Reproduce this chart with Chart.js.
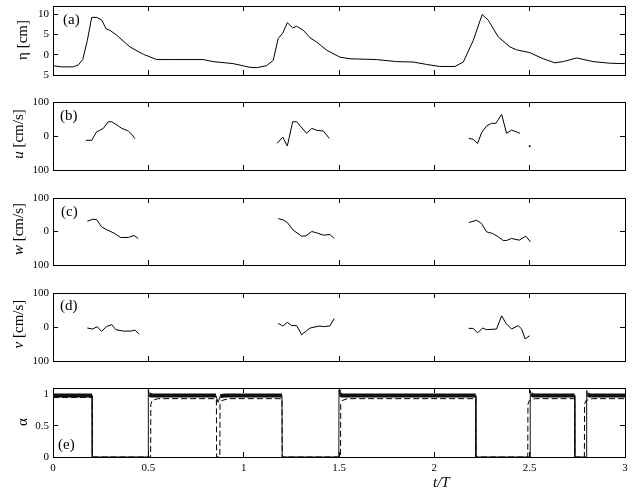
<!DOCTYPE html>
<html><head><meta charset="utf-8">
<script src="https://cdn.jsdelivr.net/npm/chart.js@4"></script>
<style>
body{margin:0;background:#fff;width:634px;height:494px;position:relative;overflow:hidden;font-family:'Liberation Serif',serif;color:#000}
.panel{position:absolute;left:0;width:634px}
.lbl{position:absolute;font-size:15px;line-height:1;white-space:nowrap;transform:translateY(-50%)}
.ytl{position:absolute;font-size:15px;line-height:1;white-space:nowrap;transform:translate(-50%,-50%) rotate(-90deg)}
</style></head><body>
<div class="panel" id="pa"><canvas id="ca"></canvas></div>
<div class="panel" id="pb"><canvas id="cb"></canvas></div>
<div class="panel" id="pc"><canvas id="cc"></canvas></div>
<div class="panel" id="pd"><canvas id="cd"></canvas></div>
<div class="panel" id="pe"><canvas id="ce"></canvas></div>

<div class="ytl" style="left:22px;top:40px">η [cm]</div>
<div class="ytl" style="left:18px;top:134px"><i>u</i> [cm/s]</div>
<div class="ytl" style="left:18px;top:229px"><i>w</i> [cm/s]</div>
<div class="ytl" style="left:18px;top:324px"><i>v</i> [cm/s]</div>
<div class="ytl" style="left:22px;top:422px">α</div>

<div class="lbl" style="left:63px;top:19px">(a)</div>
<div class="lbl" style="left:60px;top:115px">(b)</div>
<div class="lbl" style="left:61px;top:211px">(c)</div>
<div class="lbl" style="left:60px;top:305px">(d)</div>
<div class="lbl" style="left:58px;top:444px">(e)</div>
<div class="lbl" style="left:433px;top:482px"><i>t/T</i></div>

<script>
// shared x axis (t/T)
const xTicks=[0,0.5,1,1.5,2,2.5,3];

// (a) surface elevation
const etaT=[0,0.045,0.106,0.133,0.156,0.18,0.203,0.23,0.256,0.278,0.299,0.334,0.404,0.474,0.544,0.631,0.788,0.84,0.945,1.033,1.068,1.12,1.155,1.181,1.205,1.229,1.257,1.278,1.313,1.348,1.383,1.436,1.505,1.557,1.697,1.802,1.889,1.959,2.029,2.108,2.152,2.204,2.251,2.283,2.335,2.397,2.432,2.501,2.571,2.632,2.676,2.746,2.833,2.92,3.0];
const etaV=[-2.7,-3.0,-3.0,-2.5,-1.2,3.5,9.2,9.2,8.5,6.4,6.0,4.8,1.9,0.1,-1.2,-1.2,-1.2,-1.7,-2.2,-3.1,-3.2,-2.7,-1.4,4.0,5.3,7.9,6.6,7.0,6.0,4.2,3.1,1.1,-0.6,-1.0,-1.2,-1.7,-1.8,-2.4,-2.9,-2.9,-1.8,3.5,9.9,8.5,4.4,1.9,1.2,0.5,-1.0,-2.0,-1.7,-0.8,-1.7,-2.1,-2.2];
const etaTicks=[-5,0,5,10];

// (b) u
const uT=[0.173,0.203,0.229,0.246,0.264,0.29,0.308,0.343,0.36,0.395,0.413,0.43,0.8,1.176,1.205,1.229,1.257,1.278,1.33,1.357,1.383,1.418,1.449,1.8,2.18,2.204,2.227,2.248,2.274,2.3,2.323,2.353,2.379,2.405,2.428,2.449,2.47,2.5,2.53];
const uV=[-12.6,-12.6,12.6,16.7,22.5,42,42,29.4,22.6,14.7,5,-7.8,null,-21.6,-3,-29.4,42,42,7.8,22.5,16.7,14.7,-6.9,null,-6.9,-9.8,-21.6,9.8,29.4,37.2,37.2,63.7,7.8,17.6,12.7,7.8,null,-30,null];

// (c) w
const wT=[0.18,0.208,0.229,0.255,0.28,0.324,0.354,0.395,0.425,0.447,0.8,1.181,1.208,1.229,1.26,1.304,1.327,1.357,1.383,1.418,1.452,1.475,1.8,2.18,2.222,2.248,2.274,2.306,2.335,2.361,2.379,2.405,2.445,2.48,2.504];
const wV=[30.6,36.5,35.5,13.7,5.9,-5.9,-17.8,-17.8,-11.9,-20.8,null,38.6,34.4,26.7,3.9,-13.9,-12.9,0,-4,-11,-9,-20.8,null,26.7,33.5,23.7,-1,-5.9,-16,-26.7,-26.7,-20.8,-25.8,-13.9,-30.9];

// (d) v
const vT=[0.18,0.208,0.232,0.255,0.28,0.308,0.33,0.369,0.412,0.43,0.451,0.8,1.181,1.205,1.229,1.252,1.278,1.304,1.348,1.4,1.418,1.452,1.475,1.8,2.18,2.204,2.227,2.253,2.274,2.326,2.353,2.376,2.405,2.44,2.458,2.476,2.5];
const vV=[-3,-6,1,-13,1,7,-8,-12,-12,-9,-21,null,10.6,3,13.6,4,4,-22.6,-3,3,1,3,25,null,-4,-4,-17.6,-3,-7.8,-6,33,10.6,-6,4,-6,-35,-25.6];
const velTicks=[-100,0,100];

// (e) alpha, solid and dashed
const aT=[0,0.205,0.206,0.499,0.5,0.505,0.515,0.855,0.866,0.877,0.9,1.201,1.202,1.499,1.5,1.505,1.515,2.217,2.218,2.502,2.503,2.508,2.518,2.736,2.737,2.798,2.799,2.804,2.814,3];
const aV=[0.98,0.98,0,0,1.08,1.0,0.98,0.98,0.87,0.97,0.98,0.98,0,0,1.07,1.0,0.98,0.98,0,0,1.06,1.0,0.98,0.98,0,0,1.06,1.0,0.98,0.98];
const dT=[0,0.205,0.206,0.512,0.513,0.52,0.55,0.857,0.858,0.875,0.876,0.885,0.92,1.201,1.202,1.508,1.509,1.516,1.545,2.217,2.218,2.49,2.491,2.498,2.53,2.736,2.737,2.787,2.788,2.795,2.83,3];
const dV=[0.95,0.95,0,0,0.84,0.9,0.93,0.93,0,0,0.84,0.9,0.93,0.93,0,0,0.84,0.9,0.93,0.93,0,0,0.84,0.9,0.93,0.93,0,0,0.84,0.9,0.93,0.93];
const alphaTicks=[0,0.5,1];

const pts=(ts,vs)=>ts.map((t,i)=>({x:t,y:vs[i]}));
const lone=vs=>c=>{const i=c.dataIndex;return vs[i]!=null&&vs[i-1]==null&&vs[i+1]==null?1:0;};
const FONT={family:'Liberation Serif',size:11};

function line(ts,vs,extra){
  return Object.assign({data:pts(ts,vs),borderColor:'#000',borderWidth:1,pointRadius:lone(vs),
    pointBackgroundColor:'#000',pointBorderWidth:0,tension:0,spanGaps:false,xAxisID:'x',yAxisID:'y'},extra||{});
}

// pin an axis to a fixed size and drop the label overflow padding
const fix=(w,h)=>s=>{
  if(w!=null)s.width=w;
  if(h!=null)s.height=h;
  s.paddingTop=s.paddingBottom=s.paddingLeft=s.paddingRight=0;
};

function panel(cid,pid,top,bottom,yMin,yMax,yTicks,datasets,showX){
  const padB=showX?24:8;
  const box=document.getElementById(pid);
  box.style.top=(top-6)+'px';
  box.style.height=(bottom-top+6+padB)+'px';
  const grid={drawOnChartArea:false,drawTicks:true,tickLength:-5,color:'#000',lineWidth:1};
  const border={display:true,color:'#000',width:1};
  const setX=s=>{s.ticks=xTicks.map(v=>({value:v}));};
  const setY=s=>{s.ticks=yTicks.map(v=>({value:v}));};
  new Chart(document.getElementById(cid),{type:'line',data:{datasets},
    options:{responsive:true,maintainAspectRatio:false,animation:false,devicePixelRatio:1,
      layout:{padding:0},
      plugins:{legend:{display:false},tooltip:{enabled:false}},
      scales:{
        x:{type:'linear',position:'bottom',min:0,max:3,afterBuildTicks:setX,grid,border,
          ticks:{display:showX,padding:10,font:FONT,color:'#000',maxRotation:0,autoSkip:false,callback:v=>String(v)},
          afterFit:fix(null,padB)},
        x2:{type:'linear',position:'top',min:0,max:3,afterBuildTicks:setX,grid,border,
          ticks:{display:false},afterFit:fix(null,6)},
        y:{type:'linear',position:'left',min:yMin,max:yMax,afterBuildTicks:setY,grid,border,
          ticks:{padding:9,font:FONT,color:'#000',callback:v=>String(Math.abs(v))},
          afterFit:fix(53,null)},
        y2:{type:'linear',position:'right',min:yMin,max:yMax,afterBuildTicks:setY,grid,border,
          ticks:{display:false},afterFit:fix(9,null)}
      }}});
}

panel('ca','pa',6,75,-5,12,etaTicks,[line(etaT,etaV)],false);
panel('cb','pb',102,170,-100,100,velTicks,[line(uT,uV)],false);
panel('cc','pc',198,265,-100,100,velTicks,[line(wT,wV)],false);
panel('cd','pd',293,361,-100,100,velTicks,[line(vT,vV)],false);
const band=c=>{const a=aV[c.p0DataIndex],b=aV[c.p1DataIndex];return a>=0.95&&a<=1&&b>=0.95&&b<=1?4:1;};
panel('ce','pe',388,457,0,1.1,alphaTicks,[
  line(aT,aV,{segment:{borderWidth:band},borderColor:'#111'}),
  line(dT,dV,{borderDash:[6,3]})
],true);
</script>
</body></html>
